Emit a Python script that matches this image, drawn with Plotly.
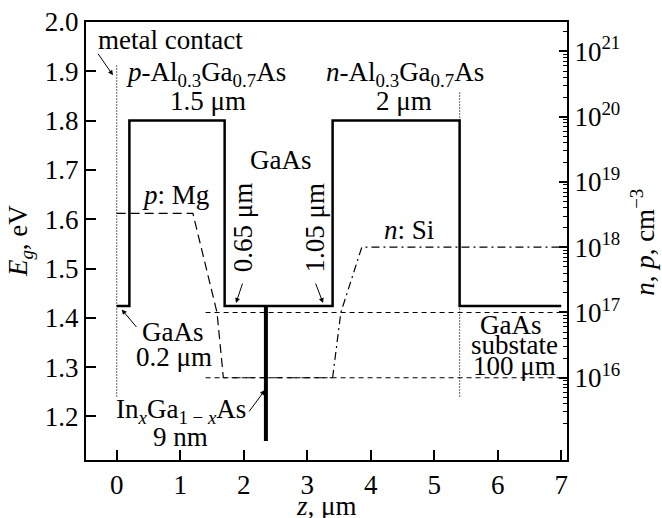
import plotly.graph_objects as go

# ---------------- data ----------------
# band-gap profile Eg(z)
z_eg = [0, 0.2, 0.2, 1.7, 1.7, 3.4, 3.4, 5.4, 5.4, 7.0]
eg = [1.424, 1.424, 1.8, 1.8, 1.424, 1.424, 1.8, 1.8, 1.424, 1.424]
# InGaAs quantum well (9 nm)
z_well = [2.35, 2.35]
eg_well = [1.15, 1.424]
# dotted boundaries (metal contact, substrate)
z_contact = [0, 0]
eg_contact = [1.912, 1.237]
z_subst = [5.4, 5.4]
eg_subst = [1.857, 1.237]
# doping profiles (right axis, cm^-3)
z_p = [0, 1.2, 1.58, 1.68, 3.4]
p_mg = [3.3e18, 3.3e18, 1e17, 1e16, 1e16]
z_n = [3.4, 3.53, 3.86, 7.0]
n_si = [1e16, 1e17, 1e18, 1e18]
z_ref = [1.4, 7.0]
ref_hi = [1e17, 1e17]
ref_lo = [1e16, 1e16]
# ticks
x_ticks = [0, 1, 2, 3, 4, 5, 6, 7]
y_ticks = [1.2, 1.3, 1.4, 1.5, 1.6, 1.7, 1.8, 1.9, 2.0]
decades = [16, 17, 18, 19, 20, 21]

FONT = "Liberation Serif"
FS = 27

fig = go.Figure()
fig.add_trace(go.Scatter(x=z_contact, y=eg_contact, mode="lines",
                         line=dict(color="black", width=1.2, dash="1px,2px")))
fig.add_trace(go.Scatter(x=z_subst, y=eg_subst, mode="lines",
                         line=dict(color="black", width=1.2, dash="1px,2px")))
fig.add_trace(go.Scatter(x=z_ref, y=ref_hi, yaxis="y2", mode="lines",
                         line=dict(color="black", width=1.2, dash="5px,4px")))
fig.add_trace(go.Scatter(x=z_ref, y=ref_lo, yaxis="y2", mode="lines",
                         line=dict(color="black", width=1.2, dash="5px,4px")))
fig.add_trace(go.Scatter(x=z_p, y=p_mg, yaxis="y2", mode="lines",
                         line=dict(color="black", width=1.2, dash="9px,5px")))
fig.add_trace(go.Scatter(x=z_n, y=n_si, yaxis="y2", mode="lines",
                         line=dict(color="black", width=1.2, dash="8px,4px,2px,4px")))
fig.add_trace(go.Scatter(x=z_eg, y=eg, mode="lines",
                         line=dict(color="black", width=2.5)))
fig.add_trace(go.Scatter(x=z_well, y=eg_well, mode="lines",
                         line=dict(color="black", width=4)))

major = [10.0 ** d for d in decades]
minor = [m * 10.0 ** d for d in range(15, 22) for m in range(2, 10)
         if 10 ** 14.74 < m * 10.0 ** d < 10 ** 21.45]

fig.update_layout(
    width=662, height=518,
    margin=dict(l=86, r=95, t=22, b=58),
    paper_bgcolor="white", plot_bgcolor="white",
    showlegend=False,
    font=dict(family=FONT, size=FS, color="black"),
    xaxis=dict(range=[-0.483, 7.091], tickvals=x_ticks, ticks="inside", ticklen=10,
               tickwidth=1.5, tickcolor="black", showline=True, linecolor="black",
               linewidth=2, mirror=True, showgrid=False, zeroline=False,
               automargin=False, tickfont=dict(size=FS)),
    yaxis=dict(range=[1.1116, 2.0], tickvals=y_ticks, tickformat=".1f",
               ticks="inside", ticklen=10, tickwidth=1.5, tickcolor="black",
               showline=True, linecolor="black", linewidth=2, showgrid=False,
               zeroline=False, automargin=False, tickfont=dict(size=FS)),
    yaxis2=dict(type="log", overlaying="y", side="right", anchor="x",
                range=[14.74, 21.45], tickmode="array", tickvals=major,
                ticktext=["10<sup>%d</sup>" % d for d in decades],
                ticks="inside", ticklen=8, tickwidth=1.5, tickcolor="black",
                minor=dict(tickmode="array", tickvals=minor, ticks="inside",
                           ticklen=4, tickwidth=1, tickcolor="black", showgrid=False),
                showline=True, linecolor="black", linewidth=2, showgrid=False,
                zeroline=False, automargin=False, tickfont=dict(size=FS)),
)

# axis titles (paper coordinates)
def title(text, x, y, angle=0):
    fig.add_annotation(x=x, y=y, xref="paper", yref="paper", text=text,
                       showarrow=False, textangle=angle,
                       font=dict(family=FONT, size=FS, color="black"),
                       xanchor="center", yanchor="middle")

title("<i>z</i>, μm", 0.5, -0.104)
title("<i>E</i><sub><i>g</i></sub>, eV", -0.137, 0.5, -90)
title("<i>n</i>, <i>p</i>, cm<sup>−3</sup>", 1.158, 0.498, -90)

def label(text, x, y, angle=0):
    fig.add_annotation(x=x, y=y, xref="x", yref="y", text=text, showarrow=False,
                       textangle=angle, font=dict(family=FONT, size=FS, color="black"),
                       xanchor="center", yanchor="middle")

def arrow(x, y, ax, ay):
    fig.add_annotation(x=x, y=y, xref="x", yref="y", text="", showarrow=True,
                       ax=ax, ay=ay, arrowhead=2, arrowsize=1, arrowwidth=1,
                       arrowcolor="black")

label("metal contact", 0.855, 1.963)
label("<i>p</i>-Al<sub>0.3</sub>Ga<sub>0.7</sub>As", 1.41, 1.895)
label("1.5 μm", 1.44, 1.840)
label("<i>n</i>-Al<sub>0.3</sub>Ga<sub>0.7</sub>As", 4.54, 1.895)
label("2 μm", 4.53, 1.840)
label("GaAs", 2.58, 1.72)
label("0.65 μm", 1.99, 1.582, -90)
label("1.05 μm", 3.13, 1.582, -90)
label("<i>p</i>: Mg", 0.93, 1.649)
label("<i>n</i>: Si", 4.60, 1.578)
label("GaAs", 0.89, 1.372)
label("0.2 μm", 0.91, 1.321)
label("In<sub><i>x</i></sub>Ga<sub>1 − <i>x</i></sub>As", 1.015, 1.210)
label("9 nm", 1.0, 1.158)
label("GaAs", 6.21, 1.386)
label("substate", 6.26, 1.345)
label("100 μm", 6.27, 1.302)

arrow(-0.058, 1.892, -16, -23)
arrow(1.879, 1.43, 7, -21)
arrow(3.25, 1.43, -8, -21)
arrow(0.079, 1.417, 16, 19)
arrow(2.335, 1.2535, -17, 23)

fig.write_html("out.html", config={"displayModeBar": False},
               post_script="document.body.style.margin='0';")
